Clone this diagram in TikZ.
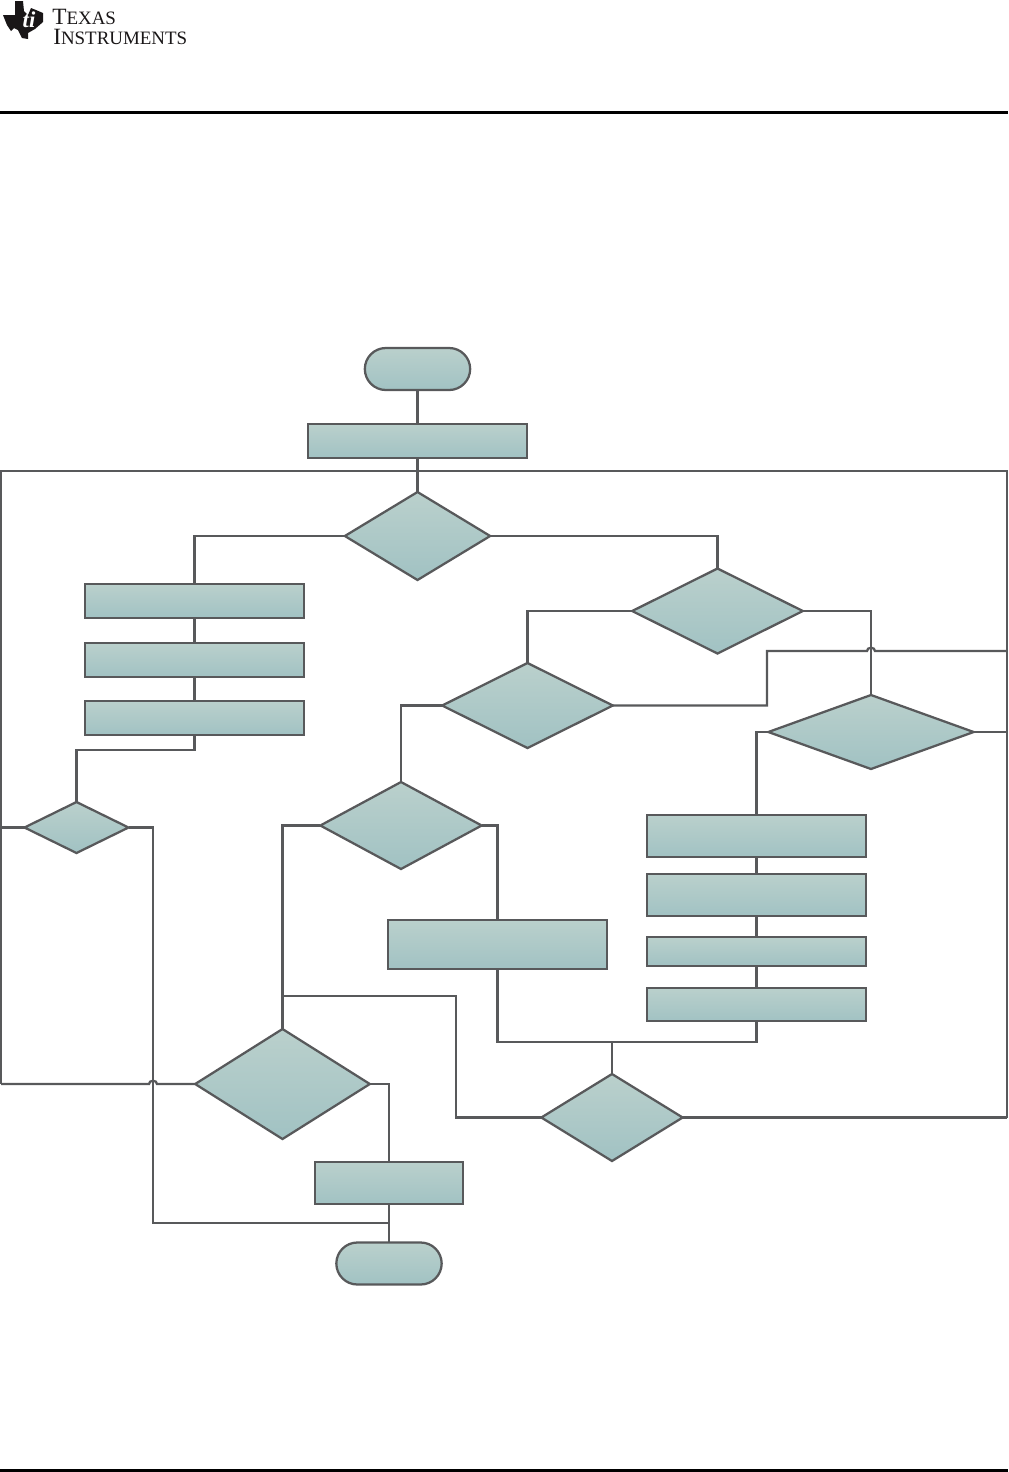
\documentclass[tikz,border=0pt]{standalone}
\usepackage{tikz}
\usepackage{fontspec}
\usetikzlibrary{positioning,shapes.geometric,shapes.misc}
\newfontfamily\logofont{Liberation Serif}
\definecolor{boxtop}{RGB}{186,208,204}
\definecolor{boxbottom}{RGB}{161,194,195}
\definecolor{linegray}{RGB}{88,89,91}
\definecolor{logoblack}{RGB}{25,22,23}
\newcommand{\logobig}{\fontsize{17.5}{17.5}\selectfont}
\newcommand{\logosmall}{\fontsize{14.2}{14.2}\selectfont}

\begin{document}
\begin{tikzpicture}[
        x=0.75pt, y=-0.75pt,
        node distance=14pt,
        proc/.style={draw=linegray, line width=1.7pt, rectangle, top color=boxtop, bottom color=boxbottom, minimum width=164pt, inner sep=0pt, outer sep=0pt},
        dec/.style={draw=linegray, line width=1.7pt, diamond, top color=boxtop, bottom color=boxbottom, inner sep=0pt, outer sep=0pt},
        term/.style={draw=linegray, line width=1.7pt, rounded rectangle, top color=boxtop, bottom color=boxbottom, minimum width=79pt, minimum height=31.5pt, inner sep=0pt, outer sep=0pt},
        conn/.style={draw=linegray, line width=1.7pt, line join=miter}
    ]
        \useasboundingbox (0,0) rectangle (1008,1472);

        % page furniture
        \fill[black] (0,111) rectangle (1008,114);
        \fill[black] (0,1469) rectangle (1008,1472);
        \fill[logoblack] (15,1) -- (23,1) -- (24,11) -- (28,15) -- (31,8) -- (36,10) -- (43,13) -- (43,22)
            -- (35,29) -- (28,33) -- (28,39) -- (22,38) -- (18,30) -- (14,28) -- (11,31) -- (7,25) -- (3,15)
            -- (15,15) -- cycle;
        \node[text=white, font=\logofont\bfseries\itshape\fontsize{17}{17}\selectfont, inner sep=0pt] (tilogo) at (29,20) {ti};
        \node[anchor=base west, font=\logofont, inner sep=0pt, text=logoblack] (texas) at (52,24) {{\logobig T}{\logosmall EXAS}};
        \node[anchor=base west, font=\logofont, inner sep=0pt, text=logoblack] (instruments) at (53,44) {{\logobig I}{\logosmall NSTRUMENTS}};

        % start and the first row
        \node[term] (start) at (417.5,369) {};
        \node[proc, minimum height=25.5pt] (init) at (417.5,441) {};
        \node[dec, minimum width=109pt, minimum height=66pt] (d1) at (417.5,536) {};

        % left column
        \node[proc, minimum height=25.5pt] (a1) at (194.5,601) {};
        \node[proc, minimum height=25.5pt, below=18.75pt of a1] (a2) {};
        \node[proc, minimum height=25.5pt, below=18pt of a2] (a3) {};
        \node[dec, minimum width=78pt, minimum height=38.25pt] (d2) at (76.5,827.5) {};

        % decisions on the right
        \node[dec, minimum width=128pt, minimum height=63.75pt] (d3) at (717.5,611) {};
        \node[dec, minimum width=128pt, minimum height=63.75pt] (d4) at (527.5,705.5) {};
        \node[dec, minimum width=154pt, minimum height=55.5pt] (d5) at (871,732) {};
        \node[dec, minimum width=121pt, minimum height=65.25pt] (d6) at (401,825.5) {};

        % right stack
        \node[proc, minimum height=31.5pt] (b1) at (756.5,836) {};
        \node[proc, minimum height=31.5pt, below=12.75pt of b1] (b2) {};
        \node[proc, minimum height=21.75pt, below=15.75pt of b2] (b3) {};
        \node[proc, minimum height=24.75pt, below=16.5pt of b3] (b4) {};
        \node[proc, minimum height=36.75pt] (c1) at (497.5,944.5) {};

        % lower part
        \node[dec, minimum width=106pt, minimum height=65.25pt] (d7) at (612,1117.5) {};
        \node[dec, minimum width=131pt, minimum height=82.5pt] (d8) at (282.5,1084) {};
        \node[proc, minimum width=111pt, minimum height=31.5pt] (e1) at (389,1183) {};
        \node[term] (stop) at (389,1263.5) {};

        % rails and corners
        \coordinate (railtl) at (1,471);
        \coordinate (railtr) at (1007,471);
        \coordinate (railbl) at (1,1084);
        \coordinate (railbr) at (1007,1117.5);
        \coordinate (railmid) at (1007,651);
        \coordinate (jumpa) at (867,651);
        \coordinate (jumpb) at (157,1084);
        \coordinate (bend4) at (767,705.5);
        \coordinate (bend4up) at (767,651);
        \coordinate (a3low) at (194.5,750);
        \coordinate (d2low) at (153,1223);
        \coordinate (joinend) at (389,1223);
        \coordinate (joinmid) at (612,1042);
        \coordinate (joinleft) at (497.5,1042);
        \coordinate (joinright) at (756.5,1042);
        \coordinate (d7up) at (456,1117.5);
        \coordinate (d7top) at (456,996);
        \coordinate (d8link) at (282.5,996);

        \draw[conn] (start) -- (init);
        \draw[conn] (init) -- (d1);
        \draw[conn] (railbl) -- (railtl) -- (railtr) -- (railbr);
        \draw[conn] (d1.west) -| (a1.north);
        \draw[conn] (a1) -- (a2);
        \draw[conn] (a2) -- (a3);
        \draw[conn] (a3.south) -- (a3low) -| (d2.north);
        \draw[conn] (d2.west) -- (d2.west -| railtl);
        \draw[conn] (d2.east) -| (d2low) -- (joinend);
        \draw[conn] (d1.east) -| (d3.north);
        \draw[conn] (d3.west) -| (d4.north);
        \draw[conn] (d3.east) -| (d5.north);
        \draw[conn] (d4.east) -- (bend4) -- (bend4up) -- (jumpa) arc[start angle=180, end angle=0, x radius=3pt, y radius=2.5pt] -- (railmid);
        \draw[conn] (d5.east) -- (d5.east -| railtr);
        \draw[conn] (d5.west) -| (b1.north);
        \draw[conn] (b1) -- (b2);
        \draw[conn] (b2) -- (b3);
        \draw[conn] (b3) -- (b4);
        \draw[conn] (d4.west) -| (d6.north);
        \draw[conn] (d6.east) -| (c1.north);
        \draw[conn] (c1.south) -- (joinleft) -- (joinright) -- (b4.south);
        \draw[conn] (joinmid) -- (d7.north);
        \draw[conn] (d7.east) -- (railbr);
        \draw[conn] (d7.west) -- (d7up) -- (d7top) -- (d8link);
        \draw[conn] (d6.west) -| (d8.north);
        \draw[conn] (d8.west) -- (jumpb) arc[start angle=0, end angle=180, x radius=3pt, y radius=2.5pt] -- (railbl);
        \draw[conn] (d8.east) -| (e1.north);
        \draw[conn] (e1) -- (stop);
    \end{tikzpicture}
\end{document}
